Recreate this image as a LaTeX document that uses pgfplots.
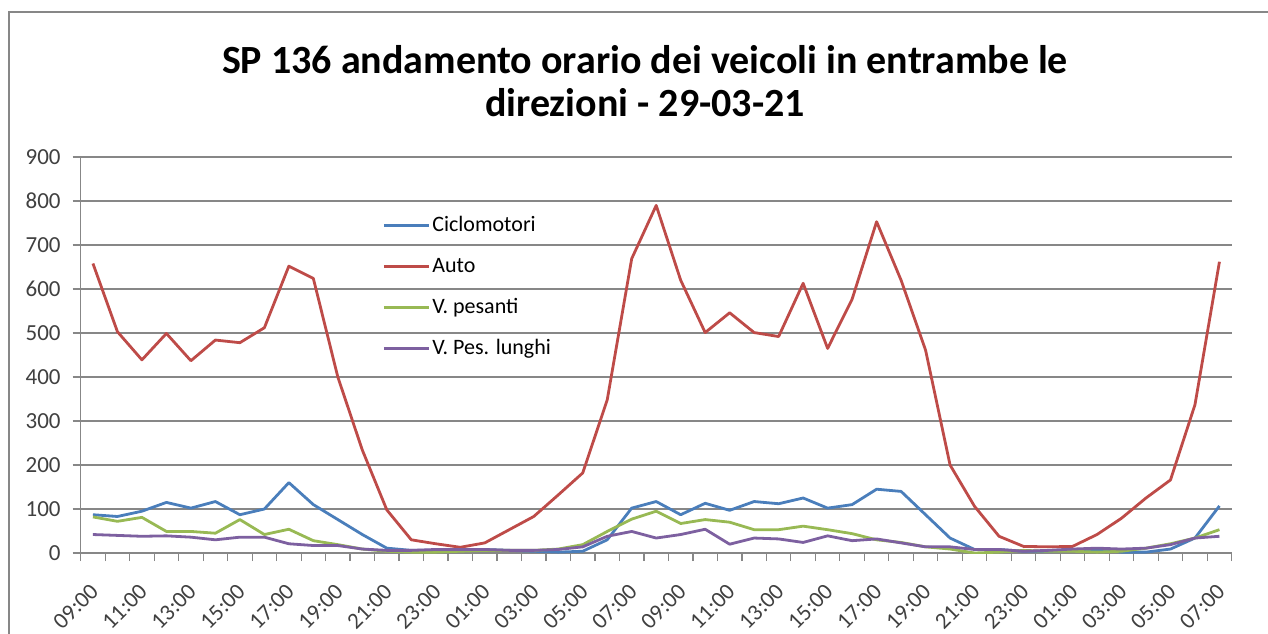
\documentclass[border=0pt]{standalone}
\usepackage{pgfplots}
\usepackage{pgfplotstable}
\pgfplotsset{compat=1.18}
\usepackage{fontspec}
\setmainfont{Carlito}
\definecolor{cBlue}{HTML}{4A7EBB}
\definecolor{cRed}{HTML}{BE4B48}
\definecolor{cGreen}{HTML}{98B954}
\definecolor{cPurple}{HTML}{7D60A0}
\definecolor{gridgray}{HTML}{878787}
\definecolor{ticktext}{HTML}{404040}

\pgfplotstableread{
i cic auto pes lun
0 87 658 82 42
1 83 503 72 40
2 95 439 81 38
3 115 499 49 39
4 102 437 49 36
5 117 484 45 30
6 87 478 76 36
7 100 512 42 36
8 160 652 54 21
9 110 624 28 17
10 76 400 19 17
11 42 234 9 9
12 11 98 4 6
13 6 30 2 6
14 6 21 2 8
15 6 13 4 8
16 8 23 6 8
17 6 53 6 6
18 4 83 6 6
19 2 132 9 8
20 4 182 19 14
21 30 348 49 38
22 102 669 77 49
23 117 790 95 34
24 87 620 67 42
25 113 501 76 54
26 97 546 70 20
27 117 501 53 34
28 112 492 53 32
29 125 613 61 24
30 102 465 53 39
31 110 577 44 28
32 145 753 30 32
33 140 620 24 23
34 87 461 14 14
35 34 200 9 14
36 8 106 0 8
37 8 38 2 8
38 4 15 6 4
39 4 14 4 6
40 6 15 4 9
41 8 42 2 11
42 2 79 4 9
43 2 125 11 11
44 9 166 21 19
45 34 337 34 34
46 107 662 53 38
}\datatable

\begin{document}
\begin{tikzpicture}
\useasboundingbox (-40.35pt,-40pt) rectangle (593.65pt,276.5pt);
\draw[gridgray, line width=0.7pt] (-35.85pt,-45pt) -- (-35.85pt,270.5pt) -- (600pt,270.5pt);
\node[font=\fontsize{20}{21.5}\selectfont\bfseries, align=center] at (282.15pt,236pt) {SP 136 andamento orario dei veicoli in entrambe le\\direzioni - 29-03-21};
\begin{axis}[
  scale only axis, width=575.5pt, height=198pt,
  xmin=-0.5, xmax=46.5, ymin=0, ymax=900,
  axis x line*=bottom, axis y line*=left,
  axis line style={gridgray, line width=0.6pt},
  ytick={0,100,...,900},
  minor ytick={0,100,...,900},
  ymajorgrids, grid style={gridgray, line width=0.6pt},
  xtick={0,2,...,46},
  xticklabels={09:00,11:00,13:00,15:00,17:00,19:00,21:00,23:00,01:00,03:00,05:00,07:00,09:00,11:00,13:00,15:00,17:00,19:00,21:00,23:00,01:00,03:00,05:00,07:00},
  minor xtick={-0.5,0.5,...,46.5},
  tick align=outside,
  major tick length=0pt, minor tick length=4pt,
  tick style={gridgray, line width=0.6pt},
  /pgf/number format/assume math mode=true,
  ticklabel style={font=\fontsize{11.5}{13}\selectfont, text=ticktext},
  yticklabel style={xshift=-6.5pt},
  xticklabel style={xshift=-2pt, yshift=-14.5pt, rotate=45, anchor=north east, inner sep=0pt},
  legend style={at={(rel axis cs:0.2567,0.869)}, anchor=north west, draw=none, fill=none,
    font=\fontsize{11}{13}\selectfont, row sep=8pt,
    nodes={inner sep=1pt, text height=8pt, text depth=2.5pt}},
  legend cell align=left,
  legend image code/.code={\draw[#1] (0pt,0pt) -- (22.5pt,0pt);},
  every axis plot/.append style={line width=1.4pt, line join=round, mark=none},
]
\addplot[cBlue] table[x=i, y=cic] {\datatable};
\addlegendentry{Ciclomotori}
\addplot[cRed] table[x=i, y=auto] {\datatable};
\addlegendentry{Auto}
\addplot[cGreen] table[x=i, y=pes] {\datatable};
\addlegendentry{V. pesanti}
\addplot[cPurple] table[x=i, y=lun] {\datatable};
\addlegendentry{V. Pes. lunghi}
\end{axis}
\end{tikzpicture}
\end{document}
